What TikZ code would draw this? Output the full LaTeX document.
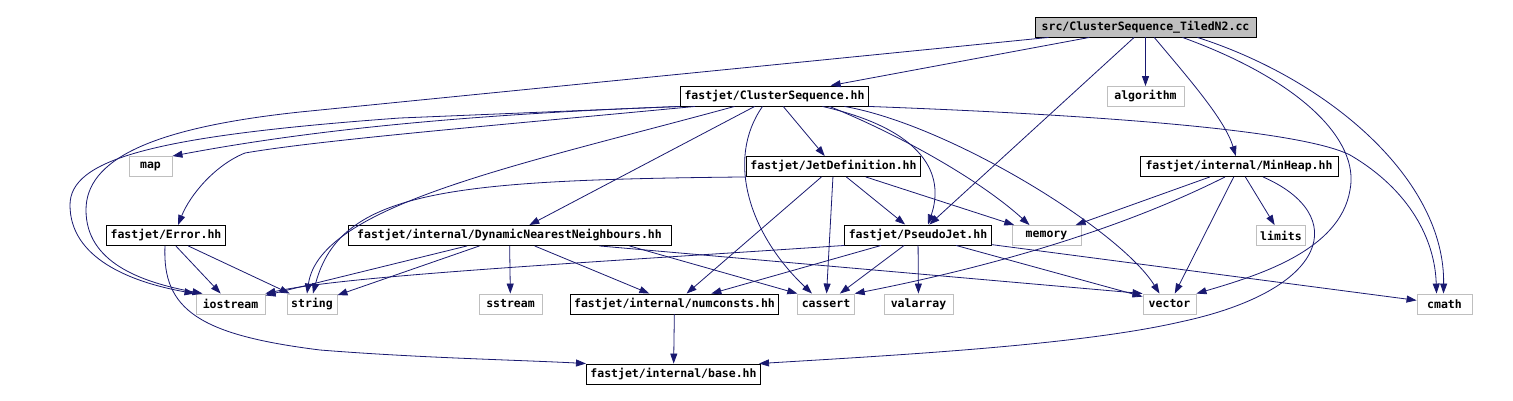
\documentclass[tikz,border=0pt]{standalone}
\usepackage{fontspec}
\setmonofont{DejaVu Sans Mono}
\usetikzlibrary{arrows.meta}
\definecolor{edgeblue}{RGB}{25,25,112}
\definecolor{extgray}{RGB}{191,191,191}
\begin{document}
\begin{tikzpicture}[x=1pt, y=-1pt,
    filenode/.style={rectangle, draw=black, line width=0.9pt, minimum height=20pt, inner xsep=4pt, inner ysep=0pt, font=\ttfamily\bfseries\fontsize{11.5}{13}\selectfont},
    extnode/.style={filenode, draw=extgray},
    rootnode/.style={filenode, fill=extgray},
    incl/.style={draw=edgeblue, line width=0.8pt, -{Triangle[length=10pt,width=7pt]}}]
  \path[use as bounding box, fill=white] (0,0) rectangle (1513,401);

  \node[rootnode, minimum width=221] (src) at (1145.5,27) {src/ClusterSequence\_TiledN2.cc};
  \node[filenode, minimum width=185] (CS) at (774.5,96) {fastjet/ClusterSequence.hh};
  \node[extnode, minimum width=77] (algorithm) at (1145.5,96.5) {algorithm};
  \node[extnode, minimum width=43] (map) at (150.5,166.5) {map};
  \node[filenode, minimum width=163] (JetDef) at (833.5,166.5) {fastjet/JetDefinition.hh};
  \node[filenode, minimum width=198] (MinHeap) at (1239,166.5) {fastjet/internal/MinHeap.hh};
  \node[filenode, minimum width=116] (Error) at (166,235.5) {fastjet/Error.hh};
  \node[filenode, minimum width=323] (DNN) at (509.5,235.5) {fastjet/internal/DynamicNearestNeighbours.hh};
  \node[filenode, minimum width=142] (PseudoJet) at (918,235) {fastjet/PseudoJet.hh};
  \node[extnode, minimum width=69] (memory) at (1046.5,235.5) {memory};
  \node[extnode, minimum width=48] (limits) at (1281,235.5) {limits};
  \node[extnode, minimum width=69] (iostream) at (230.5,304) {iostream};
  \node[extnode, minimum width=50] (string) at (312,304) {string};
  \node[extnode, minimum width=63] (sstream) at (510.5,304) {sstream};
  \node[filenode, minimum width=205] (numconsts) at (674.5,304) {fastjet/internal/numconsts.hh};
  \node[extnode, minimum width=54] (cassert) at (826,304) {cassert};
  \node[extnode, minimum width=69] (valarray) at (918.5,304) {valarray};
  \node[extnode, minimum width=53] (vector) at (1169.5,304) {vector};
  \node[extnode, minimum width=55] (cmath) at (1444.5,304) {cmath};
  \node[filenode, minimum width=163] (base) at (673.5,374) {fastjet/internal/base.hh};

  \draw[incl] (src) -- (CS);
  \draw[incl] (src) -- (algorithm);
  \draw[incl] (src) -- (PseudoJet);
  \draw[incl] (src) .. controls (1190,80) and (1225,120) .. (MinHeap);
  \draw[incl] ([xshift=-97pt]src.south) -- (300,112) .. controls (150,128) and (86,160) .. (86,210) .. controls (86,262) and (140,282) .. ([xshift=-28pt]iostream.north);
  \draw[incl] ([xshift=37pt]src.south) .. controls (1300,80) and (1360,140) .. (1350,190) .. controls (1340,250) and (1260,275) .. (vector.north east);
  \draw[incl] ([xshift=52pt]src.south) .. controls (1330,80) and (1445,180) .. ([xshift=-1pt]cmath.north);

  \draw[incl] (CS.south west) -- (400,118) .. controls (150,136) and (70,160) .. (70,205) .. controls (70,258) and (130,282) .. ([xshift=-36pt]iostream.north);
  \draw[incl] (CS.south west) .. controls (450,115) and (300,132) .. (map.north east);
  \draw[incl] ([xshift=15pt]CS.south west) .. controls (500,125) and (320,140) .. (245,153) .. controls (215,165) and (190,195) .. ([xshift=12pt]Error.north);
  \draw[incl] ([xshift=-40pt]CS.south) .. controls (520,165) and (320,205) .. ([xshift=-5pt]string.north);
  \draw[incl] (CS) -- (DNN);
  \draw[incl] (CS) -- (JetDef);
  \draw[incl] ([xshift=-12pt]CS.south) .. controls (725,160) and (750,235) .. ([xshift=-14pt]cassert.north);
  \draw[incl] ([xshift=48pt]CS.south) .. controls (925,130) and (945,175) .. ([xshift=10pt]PseudoJet.north);
  \draw[incl] ([xshift=55pt]CS.south) .. controls (900,135) and (980,180) .. ([xshift=-17pt]memory.north);
  \draw[incl] ([xshift=70pt]CS.south) .. controls (950,125) and (1120,230) .. ([xshift=-10pt]vector.north);
  \draw[incl] (CS.south east) .. controls (1100,115) and (1300,130) .. (1350,155) .. controls (1410,190) and (1435,240) .. ([xshift=-8pt]cmath.north);

  \draw[incl] (JetDef.south west) .. controls (450,180) and (340,190) .. ([xshift=1pt]string.north);
  \draw[incl] (JetDef) -- (numconsts);
  \draw[incl] (JetDef) -- (cassert);
  \draw[incl] (JetDef) -- (PseudoJet);
  \draw[incl] (JetDef) -- (memory);

  \draw[incl] (MinHeap) -- (memory);
  \draw[incl] (MinHeap) -- (limits);
  \draw[incl] (MinHeap) -- (vector);
  \draw[incl] ([xshift=-14pt]MinHeap.south) .. controls (1100,240) and (950,275) .. (cassert.north east);
  \draw[incl] ([xshift=24pt]MinHeap.south) .. controls (1350,215) and (1330,290) .. (1180,322) .. controls (1080,345) and (900,355) .. ([xshift=-2pt]base.north east);

  \draw[incl] (Error) -- (iostream);
  \draw[incl] (Error) -- (string);
  \draw[incl] ([xshift=-1pt]Error.south) .. controls (162,310) and (200,335) .. (320,350) .. controls (420,358) and (520,360) .. (base.north west);

  \draw[incl] (DNN) -- (iostream);
  \draw[incl] (DNN) -- (string);
  \draw[incl] (DNN) -- (sstream);
  \draw[incl] (DNN) -- (numconsts);
  \draw[incl] ([xshift=120pt]DNN.south) -- (cassert.north west);
  \draw[incl] ([xshift=90pt]DNN.south) -- (vector.north west);

  \draw[incl] (PseudoJet.south west) .. controls (600,262) and (350,275) .. (iostream.north east);
  \draw[incl] (PseudoJet) -- (numconsts);
  \draw[incl] (PseudoJet) -- (cassert);
  \draw[incl] (PseudoJet) -- (valarray);
  \draw[incl] (PseudoJet) -- (vector);
  \draw[incl] (PseudoJet) -- (cmath);

  \draw[incl] (numconsts) -- (base);
\end{tikzpicture}
\end{document}
